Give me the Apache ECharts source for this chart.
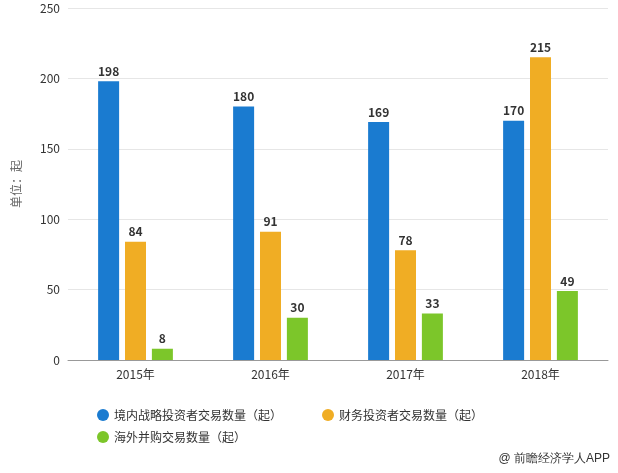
<!DOCTYPE html>
<html><head><meta charset="utf-8">
<script src="https://cdn.jsdelivr.net/npm/echarts@6/dist/echarts.min.js"></script>
<style>html,body{margin:0;background:#fff}#c{width:618px;height:473px}</style>
</head><body><div id="c"></div>
<script>
const years = ['2015年', '2016年', '2017年', '2018年'];
const strategic = [198, 180, 169, 170];
const financial = [84, 91, 78, 215];
const overseas = [8, 30, 33, 49];
const names = ['境内战略投资者交易数量（起）', '财务投资者交易数量（起）', '海外并购交易数量（起）'];
const colors = ['#1a7bd0', '#f0ad24', '#7cc62a'];

const chart = echarts.init(document.getElementById('c'));
const lbl = {show: true, position: 'top', fontWeight: 'bold', fontSize: 12, color: '#333', distance: 4};
const leg = {
  icon: 'circle', itemWidth: 12, itemHeight: 12, itemGap: 40,
  textStyle: {fontSize: 12, color: '#333'}
};
chart.setOption({
  animation: false,
  textStyle: {fontFamily: 'Noto Sans CJK SC'},
  grid: {left: 68, right: 10, top: 8, bottom: 113},
  legend: [
    Object.assign({data: names.slice(0, 2), left: 92, top: 404}, leg),
    Object.assign({data: names.slice(2), left: 92, top: 426}, leg)
  ],
  xAxis: {
    type: 'category', data: years,
    axisLine: {lineStyle: {color: '#999'}}, axisTick: {show: false},
    axisLabel: {color: '#333', fontSize: 12}
  },
  yAxis: {
    type: 'value', min: 0, max: 250, interval: 50,
    name: '单位：起', nameLocation: 'middle', nameGap: 46,
    nameTextStyle: {color: '#666', fontSize: 12},
    axisLine: {show: false}, axisTick: {show: false},
    axisLabel: {color: '#333', fontSize: 12},
    splitLine: {lineStyle: {color: '#e6e6e6'}}
  },
  series: [strategic, financial, overseas].map((d, i) => ({
    name: names[i], type: 'bar', data: d, barWidth: 21, barGap: '28%',
    itemStyle: {color: colors[i]}, label: lbl
  })),
  graphic: [{type: 'text', right: 8, bottom: 8, style: {text: '@ 前瞻经济学人APP', fill: '#333', fontSize: 12}}]
});
</script></body></html>
